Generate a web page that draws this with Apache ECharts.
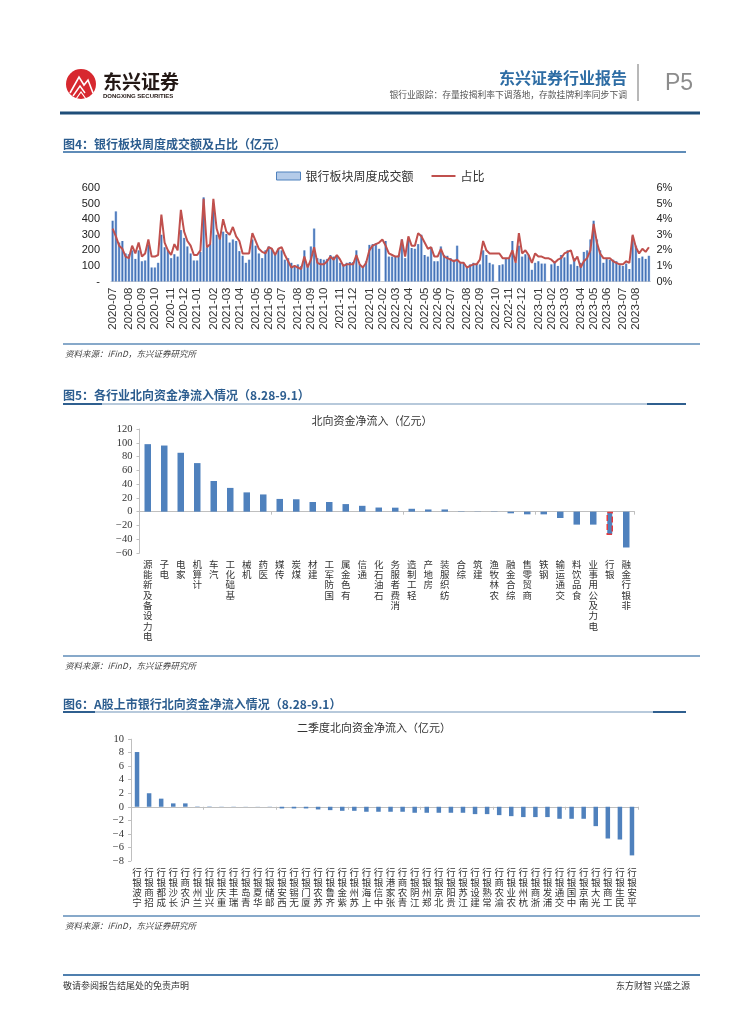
<!DOCTYPE html>
<html><head><meta charset="utf-8">
<script src="https://cdn.jsdelivr.net/npm/echarts@6/dist/echarts.min.js"></script>
<style>html,body{margin:0;padding:0;background:#fff}#c{width:755px;height:1024px}</style>
</head><body><div id="c"></div>
<script>
// ---------- Chart 1 data: weekly bank-sector turnover (亿元) and share (%) ----------
const monthLabels = ['2020-07','2020-08','2020-09','2020-10','2020-11','2020-12',
  '2021-01','2021-02','2021-03','2021-04','2021-05','2021-06','2021-07','2021-08','2021-09','2021-10','2021-11','2021-12',
  '2022-01','2022-02','2022-03','2022-04','2022-05','2022-06','2022-07','2022-08','2022-09','2022-10','2022-11','2022-12',
  '2023-01','2023-02','2023-03','2023-04','2023-05','2023-06','2023-07','2023-08'];
const weeksPerMonth = [5,4,4,5,4,4, 5,4,4,5,4,4,5,4,4,5,4,5, 4,4,4,5,4,4,5,4,5,4,4,5, 4,4,5,4,4,5,4,5];
const weeklyTurnover = [
  390,450,250,260,180,175,200,145,200,130,
  135,235,90,90,120,300,220,200,150,175,
  160,330,280,225,180,135,135,190,540,220,
  240,480,300,280,320,305,250,270,260,195,
  165,120,140,270,230,180,150,200,225,210,
  170,210,200,140,150,120,100,110,100,200,
  100,225,340,150,145,140,145,170,160,165,
  120,110,120,125,125,200,110,100,130,235,
  240,245,210,null,260,160,160,160,170,270,
  150,270,215,210,240,300,170,160,220,130,
  130,225,170,165,150,140,230,120,120,90,
  110,120,115,110,200,170,120,110,null,105,
  110,150,150,260,120,230,160,175,170,75,
  120,130,115,115,null,110,130,100,170,155,
  200,110,150,100,120,190,200,270,390,270,
  200,120,145,140,140,130,105,100,115,80,
  290,230,150,160,145,165];
const weeklyShare = [
  3.4,2.9,2.3,2.1,1.6,1.5,2.3,1.8,2.5,1.6,
  1.8,2.7,1.6,1.6,1.7,4.3,2.5,2.0,1.7,2.4,
  2.0,4.6,3.2,2.6,2.3,1.7,1.7,2.0,5.3,2.2,
  2.4,5.3,3.4,2.7,4.0,3.2,3.0,3.5,2.9,2.6,
  1.8,1.8,1.8,3.1,2.6,2.1,1.9,1.8,2.2,2.1,
  1.7,2.1,2.2,1.7,1.3,0.9,1.0,0.9,0.8,1.6,
  0.9,1.4,2.2,1.2,1.1,1.1,1.3,1.6,1.4,1.7,
  1.4,1.0,1.1,1.1,1.1,1.7,1.1,0.9,1.2,2.0,
  2.3,2.4,2.5,2.7,2.3,1.8,1.7,1.6,1.6,2.7,
  1.6,2.9,2.3,2.3,3.1,2.9,2.5,2.1,2.2,1.6,
  1.6,2.1,1.6,1.5,1.4,1.3,1.4,1.2,1.2,0.9,
  1.0,1.1,1.1,1.4,2.6,2.0,1.8,1.8,1.8,1.8,
  1.5,1.5,1.5,2.0,1.2,3.1,1.8,2.0,1.7,1.2,
  1.8,1.6,1.6,1.5,1.5,1.4,1.2,1.4,1.5,1.8,
  1.9,2.0,1.3,1.6,0.9,1.3,1.5,2.0,3.7,2.5,
  1.8,1.5,1.5,1.5,1.3,1.2,1.1,1.1,1.3,1.2,
  3.0,2.2,1.8,2.1,1.9,2.2];
const leftTicks1 = [0,100,200,300,400,500,600];

// ---------- Chart 2 data ----------
const industries = ['电力设备及新能源','电子','家电','计算机','汽车','基础化工','机械','医药','传媒','煤炭',
  '建材','国防军工','有色金属','通信','石油石化','消费者服务','轻工制造','房地产','纺织服装','综合',
  '建筑','农林牧渔','综合金融','商贸零售','钢铁','交通运输','食品饮料','电力及公用事业','银行','非银行金融'];
const industryInflow = [98,96,85.5,70.5,44.5,34.5,28,25,18.5,18,
  14,14,11,8.5,6,5.8,4.2,3.2,3.2,0.5,
  0.3,-0.4,-2.4,-3.9,-3.9,-9.2,-18.8,-18.8,-33.8,-52];

// ---------- Chart 3 data ----------
const banks = ['宁波银行','招商银行','成都银行','长沙银行','沪农商行','兰州银行','兴业银行','重庆银行','瑞丰银行','青岛银行',
  '华夏银行','邮储银行','西安银行','无锡银行','厦门银行','苏农银行','齐鲁银行','紫金银行','苏州银行','上海银行',
  '中信银行','张家港行','青农商行','江阴银行','郑州银行','北京银行','贵阳银行','江苏银行','建设银行','常熟银行',
  '渝农商行','农业银行','杭州银行','浙商银行','浦发银行','交通银行','中国银行','南京银行','光大银行','工商银行',
  '民生银行','平安银行'];
const bankInflow = [8.1,2.0,1.2,0.5,0.5,0.05,0.05,0.03,0.03,0.02,
  0.02,-0.03,-0.25,-0.25,-0.25,-0.4,-0.5,-0.6,-0.6,-0.74,
  -0.74,-0.74,-0.74,-0.89,-0.89,-0.89,-0.89,-0.89,-1.09,-1.09,
  -1.24,-1.39,-1.53,-1.53,-1.53,-1.78,-1.78,-1.78,-2.87,-4.7,
  -4.85,-7.2];

// ---------- build ----------
const weekCats = [];
monthLabels.forEach((m, i) => { for (let w = 0; w < weeksPerMonth[i]; w++) weekCats.push(w === 0 ? m : m + '|' + w); });
const isMonthStart = (i, v) => String(v).indexOf('|') < 0;
const stack = v => v.split('').reverse().join('\n');
const minus = v => (v < 0 ? '\u2212' + Math.abs(v) : String(v));

const SANS = "'Liberation Sans', Arial, 'Noto Sans CJK SC', sans-serif";
const CJK = "'Noto Sans CJK SC', sans-serif";
const SERIF = "'Liberation Serif', 'Times New Roman', 'Noto Sans CJK SC', serif";
const BLUE = '#4f81bd';
const AXIS = '#bfbfbf';

const chart = echarts.init(document.getElementById('c'), null, { renderer: 'canvas' });

function txt(text, x, y, o) {
  o = o || {};
  return { type: 'text', silent: true, style: {
    text: text, x: x, y: y, fill: o.fill || '#333', fontSize: o.size || 10,
    fontFamily: o.family || CJK, fontWeight: o.weight || 'normal', fontStyle: o.style || 'normal',
    align: o.align || 'left', textAlign: o.align || 'left',
    verticalAlign: 'middle', textVerticalAlign: 'middle' } };
}
function hline(x1, x2, y, color, w) {
  return { type: 'line', silent: true, shape: { x1: x1, y1: y, x2: x2, y2: y }, style: { stroke: color, lineWidth: w } };
}

const graphics = [
  // header logo
  { type: 'circle', silent: true, shape: { cx: 81, cy: 84, r: 15 }, style: { fill: '#d7282f' } },
  { type: 'polyline', silent: true, shape: { points: [[70, 93], [79, 77], [84, 85], [88, 80], [93, 93]] }, style: { stroke: '#fff', lineWidth: 1.6, fill: null } },
  { type: 'polyline', silent: true, shape: { points: [[73, 96], [80, 86], [85, 93]] }, style: { stroke: '#fff', lineWidth: 1.4, fill: null } },
  { type: 'polyline', silent: true, shape: { points: [[76, 99], [81, 92], [86, 99]] }, style: { stroke: '#fff', lineWidth: 1.2, fill: null } },
  txt('东兴证券', 103, 82, { size: 19, weight: 'bold', fill: '#231815' }),
  txt('DONGXING SECURITIES', 103, 96.5, { size: 6, weight: 'bold', fill: '#231815', family: SANS }),
  txt('东兴证券行业报告', 627, 78, { size: 16, weight: 'bold', fill: '#2e6da4', align: 'right' }),
  txt('银行业跟踪：存量按揭利率下调落地，存款挂牌利率同步下调', 627, 95, { size: 8.8, fill: '#555', align: 'right' }),
  { type: 'line', silent: true, shape: { x1: 638, y1: 64, x2: 638, y2: 101 }, style: { stroke: '#a0a0a0', lineWidth: 1.5 } },
  txt('P5', 665, 84, { size: 23, fill: '#8c8c8c', family: SANS }),
  { type: 'rect', silent: true, shape: { x: 60, y: 111.5, width: 640, height: 3 }, style: { fill: '#1f4e79' } },

  // chart 1 frame
  txt('图4：银行板块周度成交额及占比（亿元）', 63, 144, { size: 12, weight: 'bold', fill: '#2c5d8f' }),
  hline(63, 686, 152, '#5f8cb8', 2),
  hline(63, 700, 344, '#5f8cb8', 1.5),
  txt('资料来源：iFinD，东兴证券研究所', 65, 354, { size: 8.5, style: 'italic', fill: '#444' }),

  // chart 2 frame
  txt('图5：各行业北向资金净流入情况（8.28-9.1）', 63, 395, { size: 12, weight: 'bold', fill: '#2c5d8f' }),
  hline(63, 686, 404, '#9fb7cf', 1.5),
  hline(63, 102, 404, '#2f5f8f', 2),
  hline(647, 686, 404, '#2f5f8f', 2),
  txt('北向资金净流入（亿元）', 372, 421, { size: 11, fill: '#333', align: 'center' }),
  hline(63, 700, 656, '#5f8cb8', 1.5),
  txt('资料来源：iFinD，东兴证券研究所', 65, 666, { size: 8.5, style: 'italic', fill: '#444' }),

  // chart 3 frame
  txt('图6：A股上市银行北向资金净流入情况（8.28-9.1）', 63, 704, { size: 12, weight: 'bold', fill: '#2c5d8f' }),
  hline(63, 686, 712, '#9fb7cf', 1.5),
  hline(63, 95, 712, '#2f5f8f', 2),
  hline(653, 686, 712, '#2f5f8f', 2),
  txt('二季度北向资金净流入（亿元）', 374, 728, { size: 11, fill: '#333', align: 'center' }),
  hline(63, 700, 916, '#5f8cb8', 1.5),
  txt('资料来源：iFinD，东兴证券研究所', 65, 926, { size: 8.5, style: 'italic', fill: '#444' }),

  // footer
  hline(63, 700, 975, '#4f7fae', 2),
  txt('敬请参阅报告结尾处的免责声明', 63, 986, { size: 9, fill: '#333' }),
  txt('东方财智 兴盛之源', 690, 986, { size: 9, fill: '#333', align: 'right' })
];

const option = {
  animation: false,
  backgroundColor: '#fff',
  textStyle: { fontFamily: SANS },
  graphic: { elements: graphics },
  legend: {
    left: 271, top: 165, itemWidth: 24, itemHeight: 8, itemGap: 18,
    textStyle: { fontSize: 12, color: '#333', fontFamily: CJK },
    data: [
      { name: '银行板块周度成交额', icon: 'rect', itemStyle: { color: '#b4cbe9', borderColor: '#4f81bd', borderWidth: 1 } },
      { name: '占比', icon: 'path://M0,0 L24,0 L24,2 L0,2 Z', itemStyle: { color: '#c0504d' } }
    ]
  },
  grid: [
    { left: 111, top: 188, width: 539.5, height: 93.5 },
    { left: 139.5, top: 429, width: 495, height: 124 },
    { left: 131, top: 739.2, width: 507, height: 121.6 }
  ],
  xAxis: [
    { gridIndex: 0, type: 'category', data: weekCats, boundaryGap: true,
      axisLine: { lineStyle: { color: '#d0d0d0' } },
      axisTick: { interval: isMonthStart, length: 3, lineStyle: { color: '#bfbfbf' } },
      axisLabel: { interval: isMonthStart, rotate: 90, fontSize: 11.5, color: '#333', margin: 6,
        formatter: v => v.split('|')[0] } },
    { gridIndex: 1, type: 'category', data: industries, position: 'bottom',
      axisLine: { onZero: true, lineStyle: { color: AXIS } },
      axisTick: { show: true, length: 3, lineStyle: { color: AXIS } },
      axisLabel: { show: false } },
    { gridIndex: 1, type: 'category', data: industries, position: 'bottom',
      axisLine: { show: false, onZero: false }, axisTick: { show: false },
      axisLabel: { interval: 0, formatter: stack, fontSize: 9.5, lineHeight: 10.3, color: '#333', margin: 6, fontFamily: CJK } },
    { gridIndex: 2, type: 'category', data: banks, position: 'bottom',
      axisLine: { onZero: true, lineStyle: { color: AXIS } },
      axisTick: { show: true, length: 3, lineStyle: { color: AXIS } },
      axisLabel: { show: false } },
    { gridIndex: 2, type: 'category', data: banks, position: 'bottom',
      axisLine: { show: false, onZero: false }, axisTick: { show: false },
      axisLabel: { interval: 0, formatter: stack, fontSize: 9.5, lineHeight: 10, color: '#333', margin: 7, fontFamily: CJK } }
  ],
  yAxis: [
    { gridIndex: 0, type: 'value', min: leftTicks1[0], max: leftTicks1[leftTicks1.length - 1], interval: 100,
      splitLine: { show: false }, axisLine: { show: false }, axisTick: { show: false },
      axisLabel: { fontSize: 11, color: '#222', margin: 11, formatter: v => (v === 0 ? '-' : v) } },
    { gridIndex: 0, type: 'value', position: 'right', min: 0, max: 6, interval: 1,
      splitLine: { show: false }, axisLine: { show: false }, axisTick: { show: false },
      axisLabel: { fontSize: 11, color: '#222', margin: 6, formatter: v => v + '%' } },
    { gridIndex: 1, type: 'value', min: -60, max: 120, interval: 20,
      splitLine: { show: false }, axisLine: { show: true, lineStyle: { color: AXIS } },
      axisTick: { show: true, length: 3, lineStyle: { color: AXIS } },
      axisLabel: { fontSize: 10.5, color: '#333', margin: 7, fontFamily: SERIF, formatter: minus } },
    { gridIndex: 2, type: 'value', min: -8, max: 10, interval: 2,
      splitLine: { show: false }, axisLine: { show: true, lineStyle: { color: AXIS } },
      axisTick: { show: true, length: 3, lineStyle: { color: AXIS } },
      axisLabel: { fontSize: 10.5, color: '#333', margin: 7, fontFamily: SERIF, formatter: minus } }
  ],
  series: [
    { name: '银行板块周度成交额', type: 'bar', xAxisIndex: 0, yAxisIndex: 0, data: weeklyTurnover,
      barWidth: 2.5,
      itemStyle: { color: new echarts.graphic.LinearGradient(0, 0, 1, 0, [
        { offset: 0, color: '#8fb0de' }, { offset: 0.5, color: '#3d6cb2' }, { offset: 1, color: '#8fb0de' }]) } },
    { name: '占比', type: 'line', xAxisIndex: 0, yAxisIndex: 1, data: weeklyShare,
      symbol: 'none', connectNulls: true, lineStyle: { color: '#c0504d', width: 2 }, itemStyle: { color: '#c0504d' } },
    { name: '北向', type: 'bar', xAxisIndex: 1, yAxisIndex: 2, barWidth: 6.5,
      itemStyle: { color: BLUE },
      data: industryInflow.map((v, i) => industries[i] === '银行'
        ? { value: v, itemStyle: { color: BLUE, borderColor: '#e23a3f', borderWidth: 1.5, borderType: 'dashed' } }
        : v) },
    { name: '银行北向', type: 'bar', xAxisIndex: 3, yAxisIndex: 3, barWidth: 4.5,
      itemStyle: { color: BLUE }, data: bankInflow }
  ]
};
chart.setOption(option);
</script>
</body></html>
